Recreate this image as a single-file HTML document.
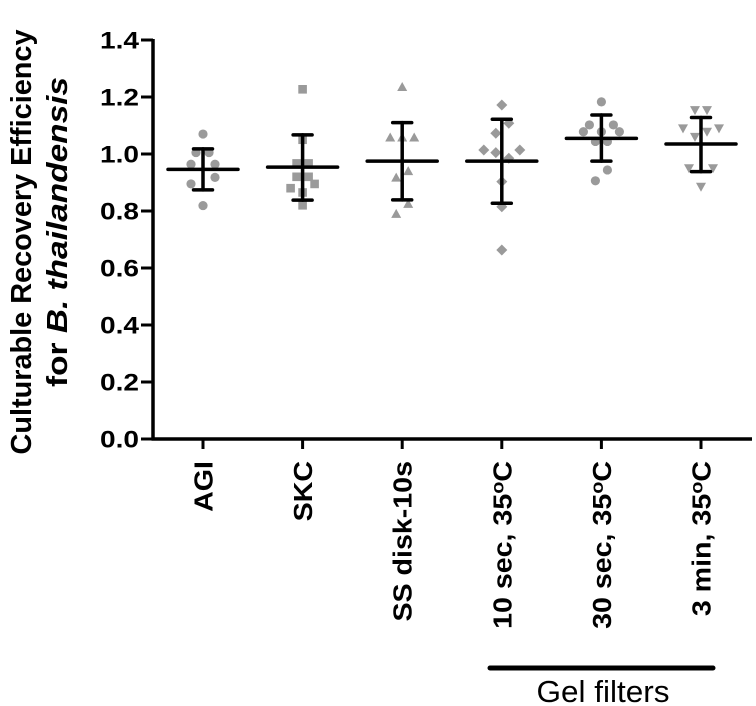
<!DOCTYPE html>
<html><head><meta charset="utf-8"><style>
html,body{margin:0;padding:0;background:#fff;}
svg{display:block;font-family:"Liberation Sans",sans-serif;}
</style></head><body>
<svg id="chart" width="756" height="706" viewBox="0 0 756 706" xmlns="http://www.w3.org/2000/svg">
<g id="yaxis"></g>
<g id="xaxis"></g>
<g id="points"></g>
<g id="bars"></g>
<text transform="translate(31,242) rotate(-90)" text-anchor="middle" font-size="29" font-weight="bold" textLength="425" lengthAdjust="spacingAndGlyphs">Culturable Recovery Efficiency</text>
<text transform="translate(67,232) rotate(-90)" text-anchor="middle" font-size="29" font-weight="bold" textLength="310" lengthAdjust="spacingAndGlyphs">for <tspan font-style="italic">B. thailandensis</tspan></text>
<line x1="490" y1="668" x2="713" y2="668" stroke="#000" stroke-width="5" stroke-linecap="round"/>
<text x="603" y="702" text-anchor="middle" font-size="31" textLength="133" lengthAdjust="spacingAndGlyphs">Gel filters</text>
</svg>
<script>
const categories = ["AGI","SKC","SS disk-10s","10 sec, 35°C","30 sec, 35°C","3 min, 35°C"];
const markers = ["circle","square","triUp","diamond","circle","triDown"];
const yTicks = [0,0.2,0.4,0.6,0.8,1.0,1.2,1.4];
const means = [0.946,0.954,0.975,0.975,1.055,1.035];
const upper = [1.018,1.067,1.11,1.122,1.137,1.128];
const lower = [0.874,0.838,0.839,0.827,0.975,0.938];
const valsAGI = [1.07,1.005,1.005,0.964,0.964,0.918,0.895,0.819];
const valsSKC = [1.227,1.05,0.967,0.967,0.92,0.92,0.895,0.88,0.865,0.82];
const valsSS = [1.235,1.058,1.058,1.058,0.94,0.917,0.825,0.79];
const vals10s = [1.172,1.108,1.073,1.014,1.014,1.005,0.985,0.903,0.815,0.663];
const vals30s = [1.183,1.102,1.102,1.078,1.078,1.078,1.044,1.044,0.944,0.906];
const vals3m = [1.154,1.154,1.09,1.09,1.078,1.06,0.95,0.95,0.885];
const series = [valsAGI,valsSKC,valsSS,vals10s,vals30s,vals3m];
// horizontal jitter (px) of each point, layout only
const jit = [[0,-7,6,-12,12,12,-12,0],[0,0,-6,6,-6,6,12,-12,0,0],[0,-12,0,12,6,-6,6,-6],[0,7,-6,-18,18,-6,7,0,0,0],[0,-12,12,-18,0,18,-6,6,6,-6],[-6,6,-18,18,6,-6,-12,12,0]];

const NS="http://www.w3.org/2000/svg";
const X0=153, Y0=439, YS=285;
const y = v => Y0 - v*YS;
const x = i => 203 + i*99.6;
function mk(tag,attrs,parent){const e=document.createElementNS(NS,tag);for(const k in attrs)e.setAttribute(k,attrs[k]);parent.appendChild(e);return e;}
const ya=document.getElementById('yaxis'), xa=document.getElementById('xaxis'), pg=document.getElementById('points'), bg=document.getElementById('bars');
let l=mk('line',{x1:X0,y1:y(1.4)-1,x2:X0,y2:Y0+1.5,stroke:'#000','stroke-width':3.5},ya);


yTicks.forEach(t=>{
  const tk=mk('line',{x1:141,y1:y(t),x2:X0,y2:y(t),stroke:'#000','stroke-width':3},ya);
  
  
  const tx=mk('text',{x:139,y:y(t)+8.5,'text-anchor':'end','font-size':24,'font-weight':'bold',textLength:39,lengthAdjust:'spacingAndGlyphs'},ya);
  tx.textContent=t.toFixed(1);
  
  
});
l=mk('line',{x1:X0-1.5,y1:Y0,x2:752,y2:Y0,stroke:'#000','stroke-width':3.5},xa);


categories.forEach((c,i)=>{
  const tk=mk('line',{x1:x(i),y1:Y0,x2:x(i),y2:Y0+10,stroke:'#000','stroke-width':3},xa);
  
  
  const tx=mk('text',{transform:`translate(${x(i)+9.5},${Y0+22}) rotate(-90) scale(1.1,1)`,'text-anchor':'end','font-size':26,'font-weight':'bold'},xa);
  const m=c.match(/^(.*)°C$/);
  if(m){tx.appendChild(document.createTextNode(m[1]));const s=mk('tspan',{dy:-8,'font-size':18},tx);s.textContent='o';const s2=mk('tspan',{dy:8},tx);s2.textContent='C';}
  else tx.textContent=c;
  
  
});
function marker(type,cx,cy){
  const f='#9a9a9a';let e;
  if(type==='circle') e=mk('circle',{cx,cy,r:4.6,fill:f},pg);
  else if(type==='square') e=mk('rect',{x:cx-4.3,y:cy-4.3,width:8.6,height:8.6,fill:f},pg);
  else if(type==='diamond') e=mk('polygon',{points:`${cx},${cy-5.5} ${cx+5.5},${cy} ${cx},${cy+5.5} ${cx-5.5},${cy}`,fill:f},pg);
  else if(type==='triUp') e=mk('polygon',{points:`${cx},${cy-5} ${cx+5},${cy+4} ${cx-5},${cy+4}`,fill:f},pg);
  else e=mk('polygon',{points:`${cx},${cy+5} ${cx+5},${cy-4} ${cx-5},${cy-4}`,fill:f},pg);
  return e;
}
series.forEach((vals,i)=>{
  vals.forEach((v,j)=>{
    const e=marker(markers[i],x(i)+(jit[i][j]||0),y(v));
    
    
  });
});
categories.forEach((c,i)=>{
  const cx=x(i);
  const segs=[[cx-35,y(means[i]),cx+35,y(means[i]),'mean-line'],[cx,y(upper[i]),cx,y(lower[i]),'error-bar'],[cx-9.5,y(upper[i]),cx+9.5,y(upper[i]),'error-cap-upper'],[cx-9.5,y(lower[i]),cx+9.5,y(lower[i]),'error-cap-lower']];
  segs.forEach(s=>{
    const e=mk('line',{x1:s[0],y1:s[1],x2:s[2],y2:s[3],stroke:'#000','stroke-width':3.5,'stroke-linecap':'round'},bg);
    
    
  });
});
</script>
</body></html>
